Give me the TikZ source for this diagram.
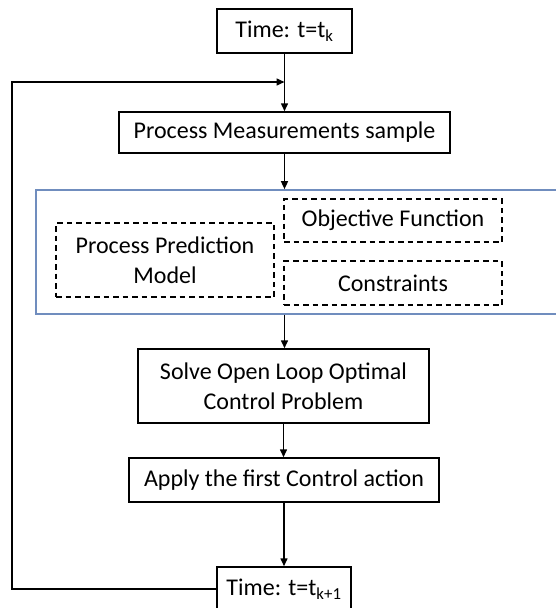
\documentclass[tikz,border=0pt]{standalone}
\usepackage{fontspec}
\setmainfont{Carlito}
\usetikzlibrary{arrows.meta}
\definecolor{frameblue}{RGB}{112,141,190}
\begin{document}
\begin{tikzpicture}[x=1pt,y=-1pt,
  font=\fontsize{24}{30}\selectfont,
  box/.style={draw=black,line width=1.5pt,align=center,inner sep=0pt,fill=white},
  dbox/.style={draw=black,line width=1.3pt,dash pattern=on 5.5pt off 4pt,align=center,inner sep=0pt},
  conn/.style={line width=1.5pt,-{Triangle[length=8pt,width=7pt]}},
  line/.style={line width=1.5pt}]
\useasboundingbox (0,0) rectangle (556,608);
\clip (0,0) rectangle (556,608);
\fill[white] (0,0) rectangle (556,608);
\node[draw=frameblue,line width=1.7pt,minimum width=524pt,minimum height=124pt,inner sep=0pt] (mpc) at (298,252) {};
\node[box,minimum width=135pt,minimum height=44pt] (tk) at (284.5,31) {Time: t=t\textsubscript{k}};
\node[box,minimum width=331pt,minimum height=41pt] (pm) at (284.5,132.5) {Process Measurements sample};
\node[dbox,minimum width=218pt,minimum height=74pt] (ppm) at (165,260) {Process Prediction\\Model};
\node[dbox,minimum width=218pt,minimum height=43pt] (of) at (393,220.5) {Objective Function};
\node[dbox,minimum width=218pt,minimum height=44pt] (con) at (393,283) {Constraints};
\node[box,minimum width=291pt,minimum height=74pt] (solve) at (283.5,386) {Solve Open Loop Optimal\\Control Problem};
\node[box,minimum width=310pt,minimum height=44pt] (apply) at (284,480) {Apply the first Control action};
\node[box,minimum width=134pt,minimum height=44pt] (tk1) at (284,589) {Time: t=t\textsubscript{k+1}};
\coordinate (join) at (284.5,82);
\coordinate (cl) at (12,82);
\draw[conn] (tk.south) -- (pm.north);
\draw[conn] (pm.south) -- (pm.south |- mpc.north);
\draw[conn] (pm.south |- mpc.south) -- (solve.north -| pm.south);
\draw[conn] (solve.south) -- (apply.north -| solve.south);
\draw[conn] (apply.south) -- (tk1.north);
\draw[conn] (tk1.west) -| (cl) -- (join);
\end{tikzpicture}
\end{document}
